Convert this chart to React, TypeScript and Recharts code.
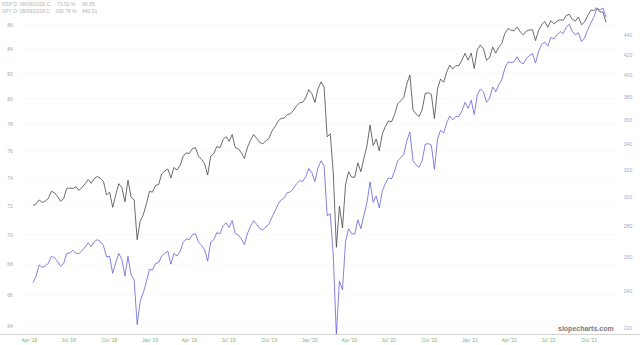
import React from 'react';
import { ComposedChart, Line, XAxis, YAxis, CartesianGrid } from 'recharts';

// weekly closes, first one on this date
const START_DATE = '2018-04-27';

const QUARTER_STARTS = [
  '2018-04-01', '2018-07-01', '2018-10-01', '2019-01-01', '2019-04-01',
  '2019-07-01', '2019-10-01', '2020-01-01', '2020-04-01', '2020-07-01',
  '2020-10-01', '2021-01-01', '2021-04-01', '2021-07-01', '2021-10-01',
];
const QUARTER_LABELS = [
  "Apr '18", "Jul '18", "Oct '18", "Jan '19", "Apr '19",
  "Jul '19", "Oct '19", "Jan '20", "Apr '20", "Jul '20",
  "Oct '20", "Jan '21", "Apr '21", "Jul '21", "Oct '21",
];

const LEFT_TICKS = [64, 66, 68, 70, 72, 74, 76, 78, 80, 82, 84, 86];
const RIGHT_TICKS = [220, 240, 260, 280, 300, 320, 340, 360, 380, 400, 420, 440];

// black line, left axis
const rspClose = [
  72.04, 72.14, 72.43, 72.25, 72.35, 72.53, 73.05, 72.94, 72.69, 72.33,
  72.53, 73.26, 73.28, 73.25, 73.37, 73.11, 73.33, 73.59, 73.90, 73.62,
  73.98, 74.12, 73.98, 73.76, 72.79, 72.98, 71.91, 72.80, 73.60, 73.32,
  72.29, 73.85, 72.63, 72.44, 69.66, 70.97,
  71.38, 72.16, 73.04, 72.99, 73.47, 73.53, 74.31, 74.52, 74.67, 74.01,
  74.78, 74.59, 74.93, 75.61, 75.86, 75.80, 76.17, 76.25, 75.62, 75.38,
  75.06, 74.23, 75.62, 75.80, 76.33, 76.24, 76.83, 77.08, 76.72, 77.24,
  76.25, 76.16, 75.86, 75.44, 76.28, 76.81, 77.23, 76.95, 76.64, 76.54,
  76.76, 76.95, 77.50, 77.85, 78.27, 78.47, 78.49, 78.76, 78.82, 79.09,
  79.45, 79.68,
  79.72, 80.06, 80.71, 80.40, 79.70, 80.78, 81.33, 80.92, 77.06, 77.29,
  74.32, 69.14, 71.99, 70.47, 73.53, 74.47, 74.07, 74.07, 75.12, 74.47,
  75.46, 76.41, 77.96, 76.42, 76.89, 76.01, 77.28, 77.85, 78.27, 78.20,
  78.78, 79.59, 79.83, 80.10, 81.18, 81.88, 79.13, 78.81, 78.62, 79.14,
  80.42, 80.47, 80.34, 78.46, 80.78, 81.56, 81.30, 82.10, 82.69, 82.37,
  82.64, 82.64, 83.11,
  83.64, 83.08, 83.66, 82.41, 83.95, 84.32, 84.02, 83.08, 83.29, 84.17,
  83.66, 84.14, 84.46, 85.30, 85.71, 85.57, 85.51, 85.83, 85.42, 85.18,
  85.49, 85.58, 85.60, 84.70, 85.55, 86.01, 86.30, 85.82, 86.37, 86.10,
  86.31, 86.47, 86.38, 86.81, 86.91, 86.48, 86.34, 86.68, 86.03, 86.26,
  86.79, 87.25, 87.24, 87.46, 87.12, 87.10, 86.24,
];

// blue line, right axis
const spyClose = [
  245.0, 248.8, 255.4, 253.9, 254.8, 256.3, 260.7, 259.8, 257.6, 254.5,
  256.3, 262.5, 262.7, 264.4, 262.6, 262.3, 264.2, 266.4, 269.2, 266.7,
  269.9, 271.1, 269.9, 267.3, 260.3, 260.7, 250.4, 256.8, 262.4, 258.7,
  248.9, 260.7, 249.4, 246.6, 221.8, 234.7,
  239.1, 245.5, 252.7, 252.3, 256.3, 256.8, 260.8, 262.5, 263.8, 255.9,
  262.4, 260.8, 263.7, 269.5, 271.6, 271.1, 274.3, 275.0, 269.6, 267.5,
  264.8, 257.8, 269.6, 271.1, 275.7, 274.9, 280.1, 282.2, 279.1, 283.7,
  275.0, 274.2, 271.6, 268.0, 275.3, 279.9, 283.6, 281.1, 278.4, 277.5,
  279.5, 281.2, 286.0, 290.3, 294.9, 297.9, 299.3, 303.0, 303.6, 306.1,
  309.5, 311.7,
  311.3, 314.6, 320.8, 317.8, 311.1, 321.4, 326.7, 322.8, 286.9, 288.2,
  261.0, 216.2, 245.8, 240.8, 270.0, 278.3, 274.8, 274.8, 284.2, 278.3,
  287.3, 296.1, 310.8, 296.2, 300.6, 292.4, 304.3, 309.7, 313.8, 313.1,
  318.7, 326.7, 329.0, 331.7, 342.7, 349.8, 326.8, 323.6, 321.8, 326.9,
  339.8, 340.3, 339.0, 320.2, 343.5, 351.4, 348.8, 357.2, 363.3, 360.0,
  362.9, 362.9, 367.8,
  375.2, 369.9, 377.1, 364.6, 382.1, 387.1, 384.7, 375.3, 378.6, 389.1,
  384.7, 391.2, 396.0, 406.8, 412.7, 412.3, 413.0, 417.9, 412.6, 411.1,
  416.3, 419.0, 420.9, 411.7, 423.4, 430.6, 432.6, 428.6, 437.3, 436.0,
  440.1, 443.7, 441.3, 448.3, 451.3, 443.8, 440.0, 442.6, 433.2, 436.9,
  445.1, 452.4, 458.7, 468.2, 467.1, 468.9, 459.0,
];

const dayOffset = (d: string) =>
  Math.round((Date.parse(d) - Date.parse(START_DATE)) / 86400000);

const tickDays = QUARTER_STARTS.map(dayOffset);

const chartData = spyClose.map((spy, i) => ({
  day: i * 7,
  rsp: rspClose[i],
  spy,
}));

const FONT = '"Liberation Sans", Arial, sans-serif';

const LeftTick = ({ y, payload }: any) => (
  <text x={10} y={y} dy={2} textAnchor="middle" fontSize={5} fill="#a8a8a8" fontFamily={FONT}>
    {payload.value}
  </text>
);

const RightTick = ({ y, payload }: any) => (
  <text x={628} y={y} dy={2} textAnchor="middle" fontSize={5} fill="#a6a6c8" fontFamily={FONT}>
    {payload.value}
  </text>
);

const DateTick = ({ x, payload }: any) => {
  const idx = tickDays.indexOf(payload.value);
  return (
    <text x={x} y={342} textAnchor="start" fontSize={5} fill="#7cb47c" fontFamily={FONT}>
      {QUARTER_LABELS[idx] ?? ''}
    </text>
  );
};

export default function App() {
  return (
    <div
      style={{
        position: 'absolute',
        left: 0,
        top: 0,
        width: 640,
        height: 345,
        background: '#fff',
        fontFamily: FONT,
      }}
    >
      <ComposedChart
        width={640}
        height={345}
        data={chartData}
        margin={{ top: 0, right: 0, bottom: 0, left: 0 }}
      >
        <CartesianGrid yAxisId="rsp" vertical={false} stroke="#f9f9f9" />
        <XAxis
          type="number"
          dataKey="day"
          domain={[-29.7, 1331.8]}
          allowDataOverflow
          ticks={tickDays}
          interval={0}
          height={11}
          axisLine={false}
          tickLine={false}
          tick={<DateTick />}
        />
        <YAxis
          yAxisId="rsp"
          orientation="left"
          scale="log"
          domain={[63.5, 88.14]}
          allowDataOverflow
          ticks={LEFT_TICKS}
          interval={0}
          width={20}
          axisLine={false}
          tickLine={false}
          tick={<LeftTick />}
        />
        <YAxis
          yAxisId="spy"
          orientation="right"
          scale="log"
          domain={[216.9, 478]}
          allowDataOverflow
          ticks={RIGHT_TICKS}
          interval={0}
          width={24}
          axisLine={false}
          tickLine={false}
          tick={<RightTick />}
        />
        <Line
          yAxisId="rsp"
          type="linear"
          dataKey="rsp"
          stroke="#3c3c3c"
          strokeWidth={0.75}
          dot={false}
          isAnimationActive={false}
        />
        <Line
          yAxisId="spy"
          type="linear"
          dataKey="spy"
          stroke="#5a5ad4"
          strokeWidth={0.75}
          dot={false}
          isAnimationActive={false}
        />
      </ComposedChart>

      {/* axis rule across the whole width */}
      <div style={{ position: 'absolute', left: 0, top: 334, width: 640, height: 1, background: '#d4d4d4' }} />

      {/* quote header */}
      <div style={{ position: 'absolute', left: 2, top: 1, fontSize: 5, lineHeight: '7px', color: '#b4b4b4', whiteSpace: 'pre' }}>
        {'RSP D: 08/06/2018 C:    73.50 %:    86.85'}
        <br />
        {'SPY D: 08/06/2018 C:   336.78 %:   440.51'}
      </div>

      {/* watermark */}
      <div
        style={{
          position: 'absolute',
          left: 558,
          top: 325,
          fontSize: 7,
          fontWeight: 'bold',
          color: '#7a7a7a',
        }}
      >
        slopecharts.com
      </div>
    </div>
  );
}
